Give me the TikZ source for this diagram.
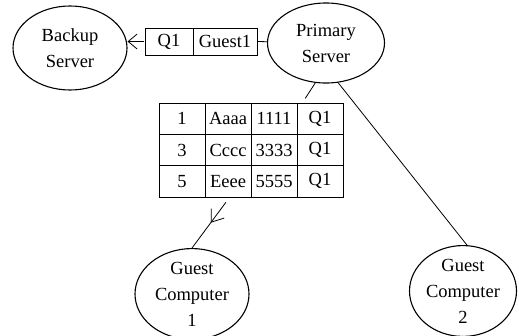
\documentclass[tikz,border=0pt]{standalone}
\usepackage{fontspec}
\setmainfont{Liberation Serif}
\usepackage{tikz}
\usetikzlibrary{arrows.meta,shapes.geometric,matrix,decorations.markings}

\begin{document}
\begin{tikzpicture}[
            x=1pt, y=-1pt,
            font=\fontsize{18.5}{26}\selectfont,
            >={Straight Barb[length=9pt,width=15pt]},
            % --- node styles ---
            host/.style={
                draw, ellipse, line width=1.1pt,
                inner sep=0pt, align=center
            },
            cell/.style={
                draw, line width=0.7pt, inner sep=1pt,
                minimum width=46pt, minimum height=31.3pt,
                anchor=center
            },
            % --- edge styles ---
            link/.style={line width=0.8pt},
            arr/.style={->, line width=0.8pt},
            midarr/.style={
                line width=0.8pt,
                decoration={markings,
                    mark=at position 0.5 with {\arrow[line width=0.8pt]{Straight Barb[length=11pt,width=16pt]}}},
                postaction={decorate}
            }
        ]

        \useasboundingbox (0,0) rectangle (519,335);

        % --- Servers ---
        \node[host, minimum width=114pt, minimum height=84pt] (backup) at (70,48)
            {Backup\\Server};

        \node[host, minimum width=117pt, minimum height=80pt] (primary) at (326,43)
            {Primary\\Server};

        % --- Guests ---
        \node[host, minimum width=114pt, minimum height=82pt] (guest1) at (192,294)
            {Guest\\Computer\\1};

        \node[host, minimum width=107pt, minimum height=82pt] (guest2) at (463,291)
            {Guest\\Computer\\2};

        % --- Message record ---
        \matrix (msg) [matrix of nodes, inner sep=0pt,
                       column sep=-0.7pt,
                       nodes={cell, minimum height=27pt},
                       column 1/.style={nodes={minimum width=48pt}},
                       column 2/.style={nodes={minimum width=64pt}}]
            at (201,41.5) {Q1 & Guest1\\};

        % --- Guest table ---
        \matrix (tbl) [matrix of nodes, inner sep=0pt,
                       column sep=-0.7pt, row sep=-0.7pt,
                       nodes={cell}]
            at (251,150) {
            1 & Aaaa & 1111 & Q1\\
            3 & Cccc & 3333 & Q1\\
            5 & Eeee & 5555 & Q1\\
        };

        % ===== Connectors =====
        \draw[link] (msg.east) -- (primary);
        \draw[arr] (msg.west) -- (msg.west -| backup.east);
        \draw[link, shorten >=5pt] (primary.255) -- ([xshift=-41pt]tbl.north east);
        \draw[link] (primary.287) -- (guest2.85);
        \draw[midarr, shorten <=6pt] ([xshift=71pt]tbl.south west) -- (guest1.north);

        \end{tikzpicture}
\end{document}
